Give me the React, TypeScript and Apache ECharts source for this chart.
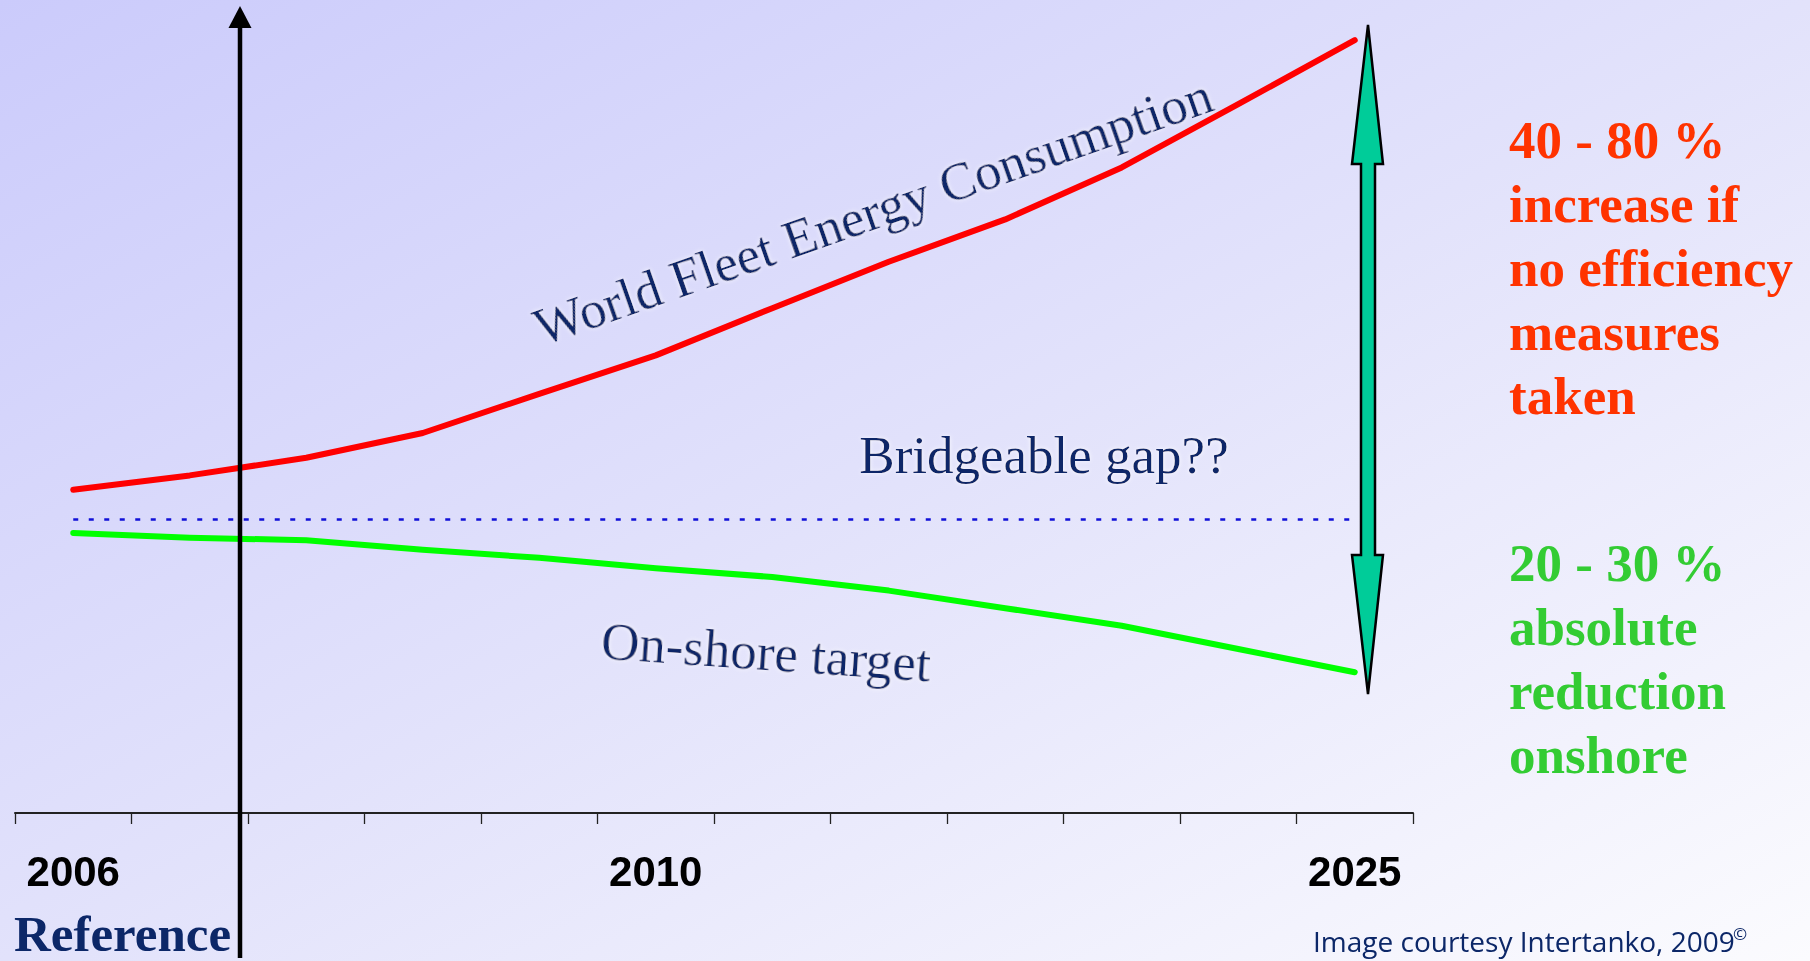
import React, { useEffect, useRef } from "react";
import * as echarts from "echarts";

// ---- data ----
const periodKeys = ["2006", "p1", "p2", "p3", "p4", "2010", "p6", "p7", "p8", "p9", "p10", "2025"];
const tickLabels = ["2006", "2010", "2025"];
// World fleet energy consumption (index, arbitrary units)
const fleetConsumption = [40.4, 42.2, 44.4, 47.5, 52.4, 57.2, 63.1, 68.9, 74.2, 80.7, 88.6, 96.6];
// On-shore target (index, arbitrary units)
const onshoreTarget = [35.0, 34.4, 34.1, 32.9, 31.9, 30.6, 29.5, 27.8, 25.6, 23.4, 20.5, 17.6];
// reference level (dotted line)
const referenceLevel = 36.75;

const redNote = ["40 - 80 %", "increase if", "no efficiency", "measures", "taken"];
const greenNote = ["20 - 30 %", "absolute", "reduction", "onshore"];

const W = 1810;
const H = 961;
const NAVY = "#0c2768";
const SERIF = "'Liberation Serif', 'Times New Roman', serif";

export default function App() {
  const ref = useRef<HTMLDivElement>(null);

  useEffect(() => {
    if (!ref.current) return;
    const chart = echarts.init(ref.current, undefined, { renderer: "svg", width: W, height: H });

    const halo = { textShadowColor: "rgba(255,255,255,0.85)", textShadowBlur: 4 };

    const option: any = {
      animation: false,
      grid: { left: 15, right: W - 1413, top: 13, bottom: H - 813, containLabel: false },
      xAxis: {
        type: "category",
        data: periodKeys,
        boundaryGap: true,
        axisLine: { show: true, lineStyle: { color: "#222", width: 2 } },
        axisTick: { show: true, interval: 0, length: 11, lineStyle: { color: "#222", width: 1.3 } },
        axisLabel: {
          interval: 0,
          margin: 37,
          formatter: (v: string) => (tickLabels.includes(v) ? v : ""),
          fontFamily: "'Liberation Sans', Arial, sans-serif",
          fontWeight: "bold",
          fontSize: 42,
          color: "#000",
        },
        splitLine: { show: false },
      },
      yAxis: { type: "value", min: 0, max: 100, show: false },
      series: [
        {
          name: "World Fleet Energy Consumption",
          type: "line",
          data: fleetConsumption,
          symbol: "none",
          lineStyle: { color: "#ff0000", width: 6, cap: "round", join: "round" },
          z: 3,
        },
        {
          name: "On-shore target",
          type: "line",
          data: onshoreTarget,
          symbol: "none",
          lineStyle: { color: "#00ff00", width: 6, cap: "round", join: "round" },
          z: 3,
          markLine: {
            silent: true,
            symbol: "none",
            label: { show: false },
            lineStyle: { color: "#1010d8", width: 2.5, type: [5, 10.5] },
            data: [[{ coord: [0, referenceLevel] }, { coord: [11, referenceLevel] }]],
          },
        },
      ],
      graphic: [
        {
          type: "rect",
          silent: true,
          z: -10,
          shape: { x: 0, y: 0, width: W, height: H },
          style: {
            fill: new echarts.graphic.LinearGradient(0, 0, 1, 1, [
              { offset: 0, color: "#cbcbfb" },
              { offset: 0.5, color: "#e2e2fb" },
              { offset: 1, color: "#fbfbfe" },
            ]),
          },
        },
        // vertical reference arrow
        {
          type: "line",
          silent: true,
          z: 50,
          shape: { x1: 240, y1: 24, x2: 240, y2: 958 },
          style: { stroke: "#000", lineWidth: 4.5 },
        },
        {
          type: "polygon",
          silent: true,
          z: 50,
          shape: { points: [[240, 6], [251.5, 28], [228.5, 28]] },
          style: { fill: "#000" },
        },
        // double-headed gap arrow
        {
          type: "polygon",
          silent: true,
          z: 50,
          shape: {
            points: [
              [1368, 25],
              [1383, 164],
              [1375, 164],
              [1375, 555],
              [1383, 555],
              [1368, 694],
              [1352, 555],
              [1361, 555],
              [1361, 164],
              [1352, 164],
            ],
          },
          style: { fill: "#00cc99", stroke: "#000", lineWidth: 2.5, lineJoin: "miter" },
        },
        // annotations
        {
          type: "text",
          silent: true,
          z: 40,
          x: 873,
          y: 211,
          rotation: (19.3 * Math.PI) / 180,
          style: {
            text: "World Fleet Energy Consumption",
            font: `53px ${SERIF}`,
            fill: NAVY,
            align: "center",
            verticalAlign: "middle",
            ...halo,
          },
        },
        {
          type: "text",
          silent: true,
          z: 40,
          x: 1044,
          y: 455,
          style: {
            text: "Bridgeable gap??",
            font: `53px ${SERIF}`,
            fill: NAVY,
            align: "center",
            verticalAlign: "middle",
            ...halo,
          },
        },
        {
          type: "text",
          silent: true,
          z: 40,
          x: 766,
          y: 652,
          rotation: (-4 * Math.PI) / 180,
          style: {
            text: "On-shore target",
            font: `53px ${SERIF}`,
            fill: NAVY,
            align: "center",
            verticalAlign: "middle",
            ...halo,
          },
        },
        {
          type: "text",
          silent: true,
          z: 40,
          x: 1509,
          y: 108,
          style: {
            text: redNote.join("\n"),
            font: `bold 53px ${SERIF}`,
            lineHeight: 64,
            fill: "#ff3300",
            align: "left",
            verticalAlign: "top",
          },
        },
        {
          type: "text",
          silent: true,
          z: 40,
          x: 1509,
          y: 531,
          style: {
            text: greenNote.join("\n"),
            font: `bold 53px ${SERIF}`,
            lineHeight: 64,
            fill: "#33cc33",
            align: "left",
            verticalAlign: "top",
          },
        },
        {
          type: "text",
          silent: true,
          z: 40,
          x: 14,
          y: 934,
          style: {
            text: "Reference",
            font: `bold 51px ${SERIF}`,
            fill: NAVY,
            align: "left",
            verticalAlign: "middle",
          },
        },
        {
          type: "text",
          silent: true,
          z: 40,
          x: 1313,
          y: 941,
          style: {
            text: "Image courtesy Intertanko, 2009",
            font: "28px 'Open Sans', 'Noto Sans', sans-serif",
            fill: NAVY,
            align: "left",
            verticalAlign: "middle",
          },
        },
        {
          type: "text",
          silent: true,
          z: 40,
          x: 1740,
          y: 933,
          style: {
            text: "©",
            font: "17px 'Open Sans', 'Noto Sans', sans-serif",
            fill: NAVY,
            align: "center",
            verticalAlign: "middle",
          },
        },
      ],
    };

    chart.setOption(option);
    return () => chart.dispose();
  }, []);

  return (
    <div
      ref={ref}
      style={{ position: "fixed", left: 0, top: 0, width: W, height: H, overflow: "hidden" }}
    />
  );
}
